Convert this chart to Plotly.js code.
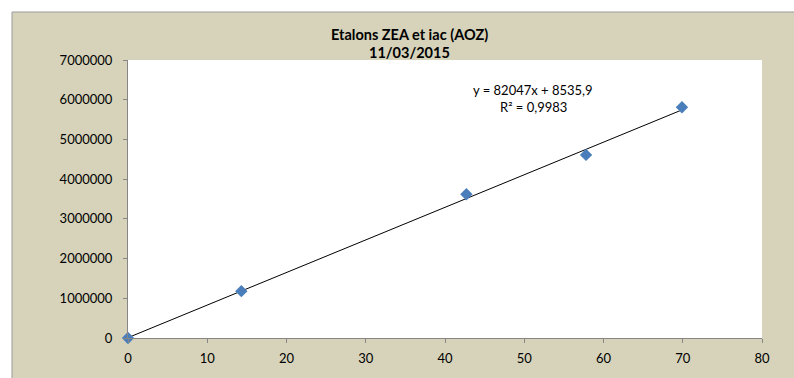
<!DOCTYPE html>
<html>
<head>
<meta charset="utf-8">
<script src="https://cdn.plot.ly/plotly-3.0.1.min.js"></script>
<style>html,body{margin:0;padding:0;background:#fff;}#chart{width:794px;height:378px;}</style>
</head>
<body>
<div id="chart"></div>
<script>
// Data
var concentrations = [0, 14.3, 42.7, 57.8, 69.9];
var areas = [0, 1180000, 3620000, 4610000, 5810000];
var xTicks = [0, 10, 20, 30, 40, 50, 60, 70, 80];
var yTicks = [0, 1000000, 2000000, 3000000, 4000000, 5000000, 6000000, 7000000];
var trendSlope = 82047;
var trendIntercept = 8535.9;
var titleLines = ["Etalons ZEA et iac (AOZ)", "11/03/2015"];
var equationLines = ["y = 82047x + 8535,9", "R² = 0,9983"];

var W = 794, H = 378;
var L = 128, R = 32, T = 60, B = 40;
var pw = W - L - R, ph = H - T - B;
function px(xp){ return (xp - L) / pw; }
function py(yp){ return (H - B - yp) / ph; }

var xMin = Math.min.apply(null, concentrations);
var xMax = Math.max.apply(null, concentrations);
var trendX = [xMin, xMax];
var trendY = trendX.map(function(v){ return trendSlope * v + trendIntercept; });

var font = "Lato, 'Open Sans', sans-serif";

var traces = [
  {x: trendX, y: trendY, mode: 'lines', type: 'scatter', cliponaxis: false,
   line: {color: '#000000', width: 1}, hoverinfo: 'skip', showlegend: false},
  {x: concentrations, y: areas, mode: 'markers', type: 'scatter', cliponaxis: false,
   marker: {symbol: 'diamond', size: 9.5, color: '#4a7ebb', line: {width: 0}},
   showlegend: false}
];

var layout = {
  width: W, height: H,
  margin: {l: L, r: R, t: T, b: B, pad: 0},
  paper_bgcolor: '#ffffff',
  plot_bgcolor: 'rgba(0,0,0,0)',
  font: {family: font, size: 13, color: '#000000'},
  showlegend: false,
  xaxis: {
    range: [0, 80], tickvals: xTicks, ticktext: xTicks.map(String),
    showgrid: false, zeroline: false, showline: true, linecolor: '#868686', linewidth: 1,
    ticks: 'outside', ticklen: 4, tickcolor: '#868686', tickwidth: 1,
    tickfont: {family: font, size: 13, color: '#000000'}, ticklabelstandoff: 4
  },
  yaxis: {
    range: [0, 7000000], tickvals: yTicks, ticktext: yTicks.map(String),
    showgrid: false, zeroline: false, showline: true, linecolor: '#868686', linewidth: 1,
    ticks: 'outside', ticklen: 4, tickcolor: '#868686', tickwidth: 1,
    tickfont: {family: font, size: 13, color: '#000000'}, ticklabelstandoff: 8
  },
  shapes: [
    {type: 'rect', xref: 'paper', yref: 'paper', layer: 'below',
     x0: px(12), x1: px(810), y0: py(12), y1: py(395),
     fillcolor: '#d6d3ba', line: {color: '#9a9a9a', width: 1}},
    {type: 'rect', xref: 'paper', yref: 'paper', layer: 'below',
     x0: 0, x1: 1, y0: 0, y1: 1,
     fillcolor: '#ffffff', line: {width: 0}}
  ],
  annotations: [
    {text: '<b>' + titleLines[0] + '</b>', xref: 'paper', yref: 'paper',
     x: px(409), y: py(35), xanchor: 'center', yanchor: 'middle', showarrow: false,
     font: {family: font, size: 14.5, color: '#000000'}},
    {text: '<b>' + titleLines[1] + '</b>', xref: 'paper', yref: 'paper',
     x: px(409), y: py(53), xanchor: 'center', yanchor: 'middle', showarrow: false,
     font: {family: font, size: 14.5, color: '#000000'}},
    {text: equationLines[0], xref: 'paper', yref: 'paper',
     x: px(533), y: py(90), xanchor: 'center', yanchor: 'middle', showarrow: false,
     font: {family: font, size: 13, color: '#000000'}},
    {text: equationLines[1], xref: 'paper', yref: 'paper',
     x: px(533), y: py(107), xanchor: 'center', yanchor: 'middle', showarrow: false,
     font: {family: font, size: 13, color: '#000000'}}
  ]
};

Plotly.newPlot('chart', traces, layout, {displayModeBar: false, staticPlot: true});
</script>
</body>
</html>
